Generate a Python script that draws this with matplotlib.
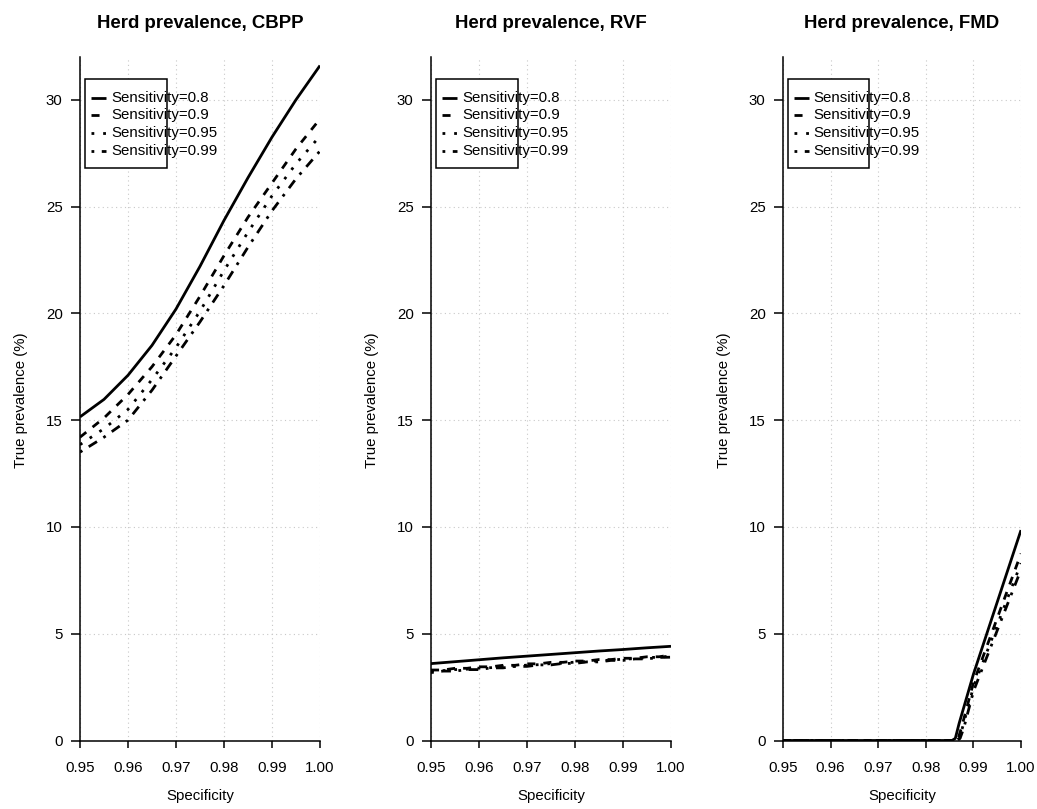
import numpy as np
import matplotlib
matplotlib.use("Agg")
import matplotlib.pyplot as plt
from matplotlib.patches import Rectangle
from matplotlib.lines import Line2D

plt.rcParams['font.family'] = ['Liberation Sans', 'DejaVu Sans']

sens_labels = ["Sensitivity=0.8", "Sensitivity=0.9", "Sensitivity=0.95", "Sensitivity=0.99"]
titles = ["Herd prevalence, CBPP", "Herd prevalence, RVF", "Herd prevalence, FMD"]

# CBPP
cbpp_spec = [0.950, 0.955, 0.960, 0.965, 0.970, 0.975, 0.980, 0.985, 0.990, 0.995, 1.000]
cbpp_se80 = [15.15, 15.97, 17.1, 18.5, 20.2, 22.2, 24.35, 26.35, 28.25, 30.0, 31.6]
cbpp_se90 = [14.2, 15.1, 16.2, 17.5, 19.0, 20.8, 22.7, 24.5, 26.1, 27.7, 29.1]
cbpp_se95 = [13.85, 14.6, 15.5, 16.9, 18.4, 20.1, 22.0, 23.8, 25.5, 27.0, 28.3]
cbpp_se99 = [13.5, 14.2, 15.0, 16.4, 18.0, 19.6, 21.3, 23.1, 24.8, 26.3, 27.6]

# RVF
rvf_spec = [0.950, 0.9525, 0.955, 0.9575, 0.960, 0.9625, 0.965, 0.9675, 0.970, 0.9725, 0.975,
            0.9775, 0.980, 0.9825, 0.985, 0.9875, 0.990, 0.9925, 0.995, 0.9975, 1.000]
rvf_se80 = [3.60, 3.645, 3.69, 3.735, 3.78, 3.825, 3.87, 3.91, 3.95, 3.99, 4.03,
            4.07, 4.11, 4.15, 4.19, 4.225, 4.26, 4.30, 4.34, 4.375, 4.41]
rvf_se90 = [3.30, 3.30, 3.38, 3.38, 3.45, 3.45, 3.52, 3.52, 3.59, 3.59, 3.66,
            3.66, 3.72, 3.72, 3.79, 3.79, 3.85, 3.85, 3.92, 3.92, 4.00]
rvf_se95 = [3.25, 3.27, 3.32, 3.34, 3.39, 3.41, 3.46, 3.48, 3.53, 3.55, 3.60,
            3.62, 3.67, 3.69, 3.74, 3.76, 3.81, 3.83, 3.88, 3.90, 3.95]
rvf_se99 = [3.18, 3.25, 3.25, 3.32, 3.32, 3.40, 3.40, 3.47, 3.47, 3.54, 3.54,
            3.61, 3.61, 3.68, 3.68, 3.75, 3.75, 3.82, 3.82, 3.89, 3.90]

# FMD
fmd_spec80 = [0.950, 0.9855, 0.9862, 0.9870, 0.9900, 1.000]
fmd_se80 = [0.0, 0.0, 0.1, 0.8, 3.1, 9.85]
fmd_spec90 = [0.950, 0.9862, 0.9868, 0.9875, 0.9900, 1.000]
fmd_se90 = [0.0, 0.0, 0.1, 0.6, 2.7, 8.75]
fmd_spec95 = [0.950, 0.9864, 0.9870, 0.9877, 0.9900, 1.000]
fmd_se95 = [0.0, 0.0, 0.1, 0.6, 2.5, 8.3]
fmd_spec99 = [0.950, 0.9866, 0.9872, 0.9880, 0.9900, 1.000]
fmd_se99 = [0.0, 0.0, 0.1, 0.6, 2.3, 8.0]

panels = [
    [(cbpp_spec, cbpp_se80), (cbpp_spec, cbpp_se90), (cbpp_spec, cbpp_se95), (cbpp_spec, cbpp_se99)],
    [(rvf_spec, rvf_se80), (rvf_spec, rvf_se90), (rvf_spec, rvf_se95), (rvf_spec, rvf_se99)],
    [(fmd_spec80, fmd_se80), (fmd_spec90, fmd_se90), (fmd_spec95, fmd_se95), (fmd_spec99, fmd_se99)],
]

# R-like line types: solid, dashed, dotted, dotdash
dash_styles = [None, (2.9, 2.9), (1, 3.2), (1, 2.7, 3.5, 2.7)]
lw = 2.0

W, H = 1037, 809
fig = plt.figure(figsize=(W / 100, H / 100), dpi=100)

lefts = [80, 431, 783]
widths = [240, 240, 238]
top_px, bot_px = 57, 740.5
fs = 10.8

for i, ax_data in enumerate(panels):
    ax = fig.add_axes([lefts[i] / W, (H - bot_px) / H, widths[i] / W, (bot_px - top_px) / H])
    ax.set_xlim(0.95, 1.0)
    ax.set_ylim(0, 32)
    ax.set_xticks([0.95, 0.96, 0.97, 0.98, 0.99, 1.00])
    ax.set_xticklabels(["0.95", "0.96", "0.97", "0.98", "0.99", "1.00"])
    ax.set_yticks([0, 5, 10, 15, 20, 25, 30])
    for s in ["top", "right"]:
        ax.spines[s].set_visible(False)
    for s in ["left", "bottom"]:
        ax.spines[s].set_linewidth(1.1)
    ax.tick_params(axis="x", direction="out", length=5, width=1.1, pad=9.5, labelsize=fs)
    ax.tick_params(axis="y", direction="out", length=6.5, width=1.1, pad=6, labelsize=fs)
    ax.grid(True, color="#c8c8c8", linestyle=(0, (1, 3)), linewidth=0.8)
    ax.set_axisbelow(True)

    for j, (xs, ys) in enumerate(ax_data):
        ln, = ax.plot(xs, ys, color="black", lw=lw, solid_capstyle="butt",
                      dash_capstyle="butt", solid_joinstyle="round", zorder=3)
        if dash_styles[j] is not None:
            ln.set_dashes(dash_styles[j])

    # R-style legend box
    ax.add_patch(Rectangle((0.0208, 0.8377), 0.3417, 0.1301, transform=ax.transAxes,
                           facecolor="white", edgecolor="black", lw=1.1, zorder=4))
    rows = [0.9405, 0.9152, 0.8884, 0.8630]
    for j, lab in enumerate(sens_labels):
        ln = Line2D([0.0446, 0.1083], [rows[j], rows[j]], transform=ax.transAxes,
                    color="black", lw=lw, solid_capstyle="butt", dash_capstyle="butt", zorder=5)
        if dash_styles[j] is not None:
            ln.set_dashes(dash_styles[j])
        ax.add_line(ln)
        ax.text(0.1292, rows[j], lab, transform=ax.transAxes, fontsize=fs,
                va="center", ha="left", zorder=6)

    cx = (lefts[i] + widths[i] / 2) / W
    fig.text(cx, 1 - 28 / H, titles[i], ha="center", va="baseline",
             fontsize=13.4, fontweight="bold")
    fig.text(cx, 1 - 800 / H, "Specificity", ha="center", va="baseline", fontsize=fs)
    fig.text((lefts[i] - 59) / W, 1 - 400 / H, "True prevalence (%)", rotation=90,
             ha="center", va="center", fontsize=fs)

fig.savefig("out.png", dpi=100)
